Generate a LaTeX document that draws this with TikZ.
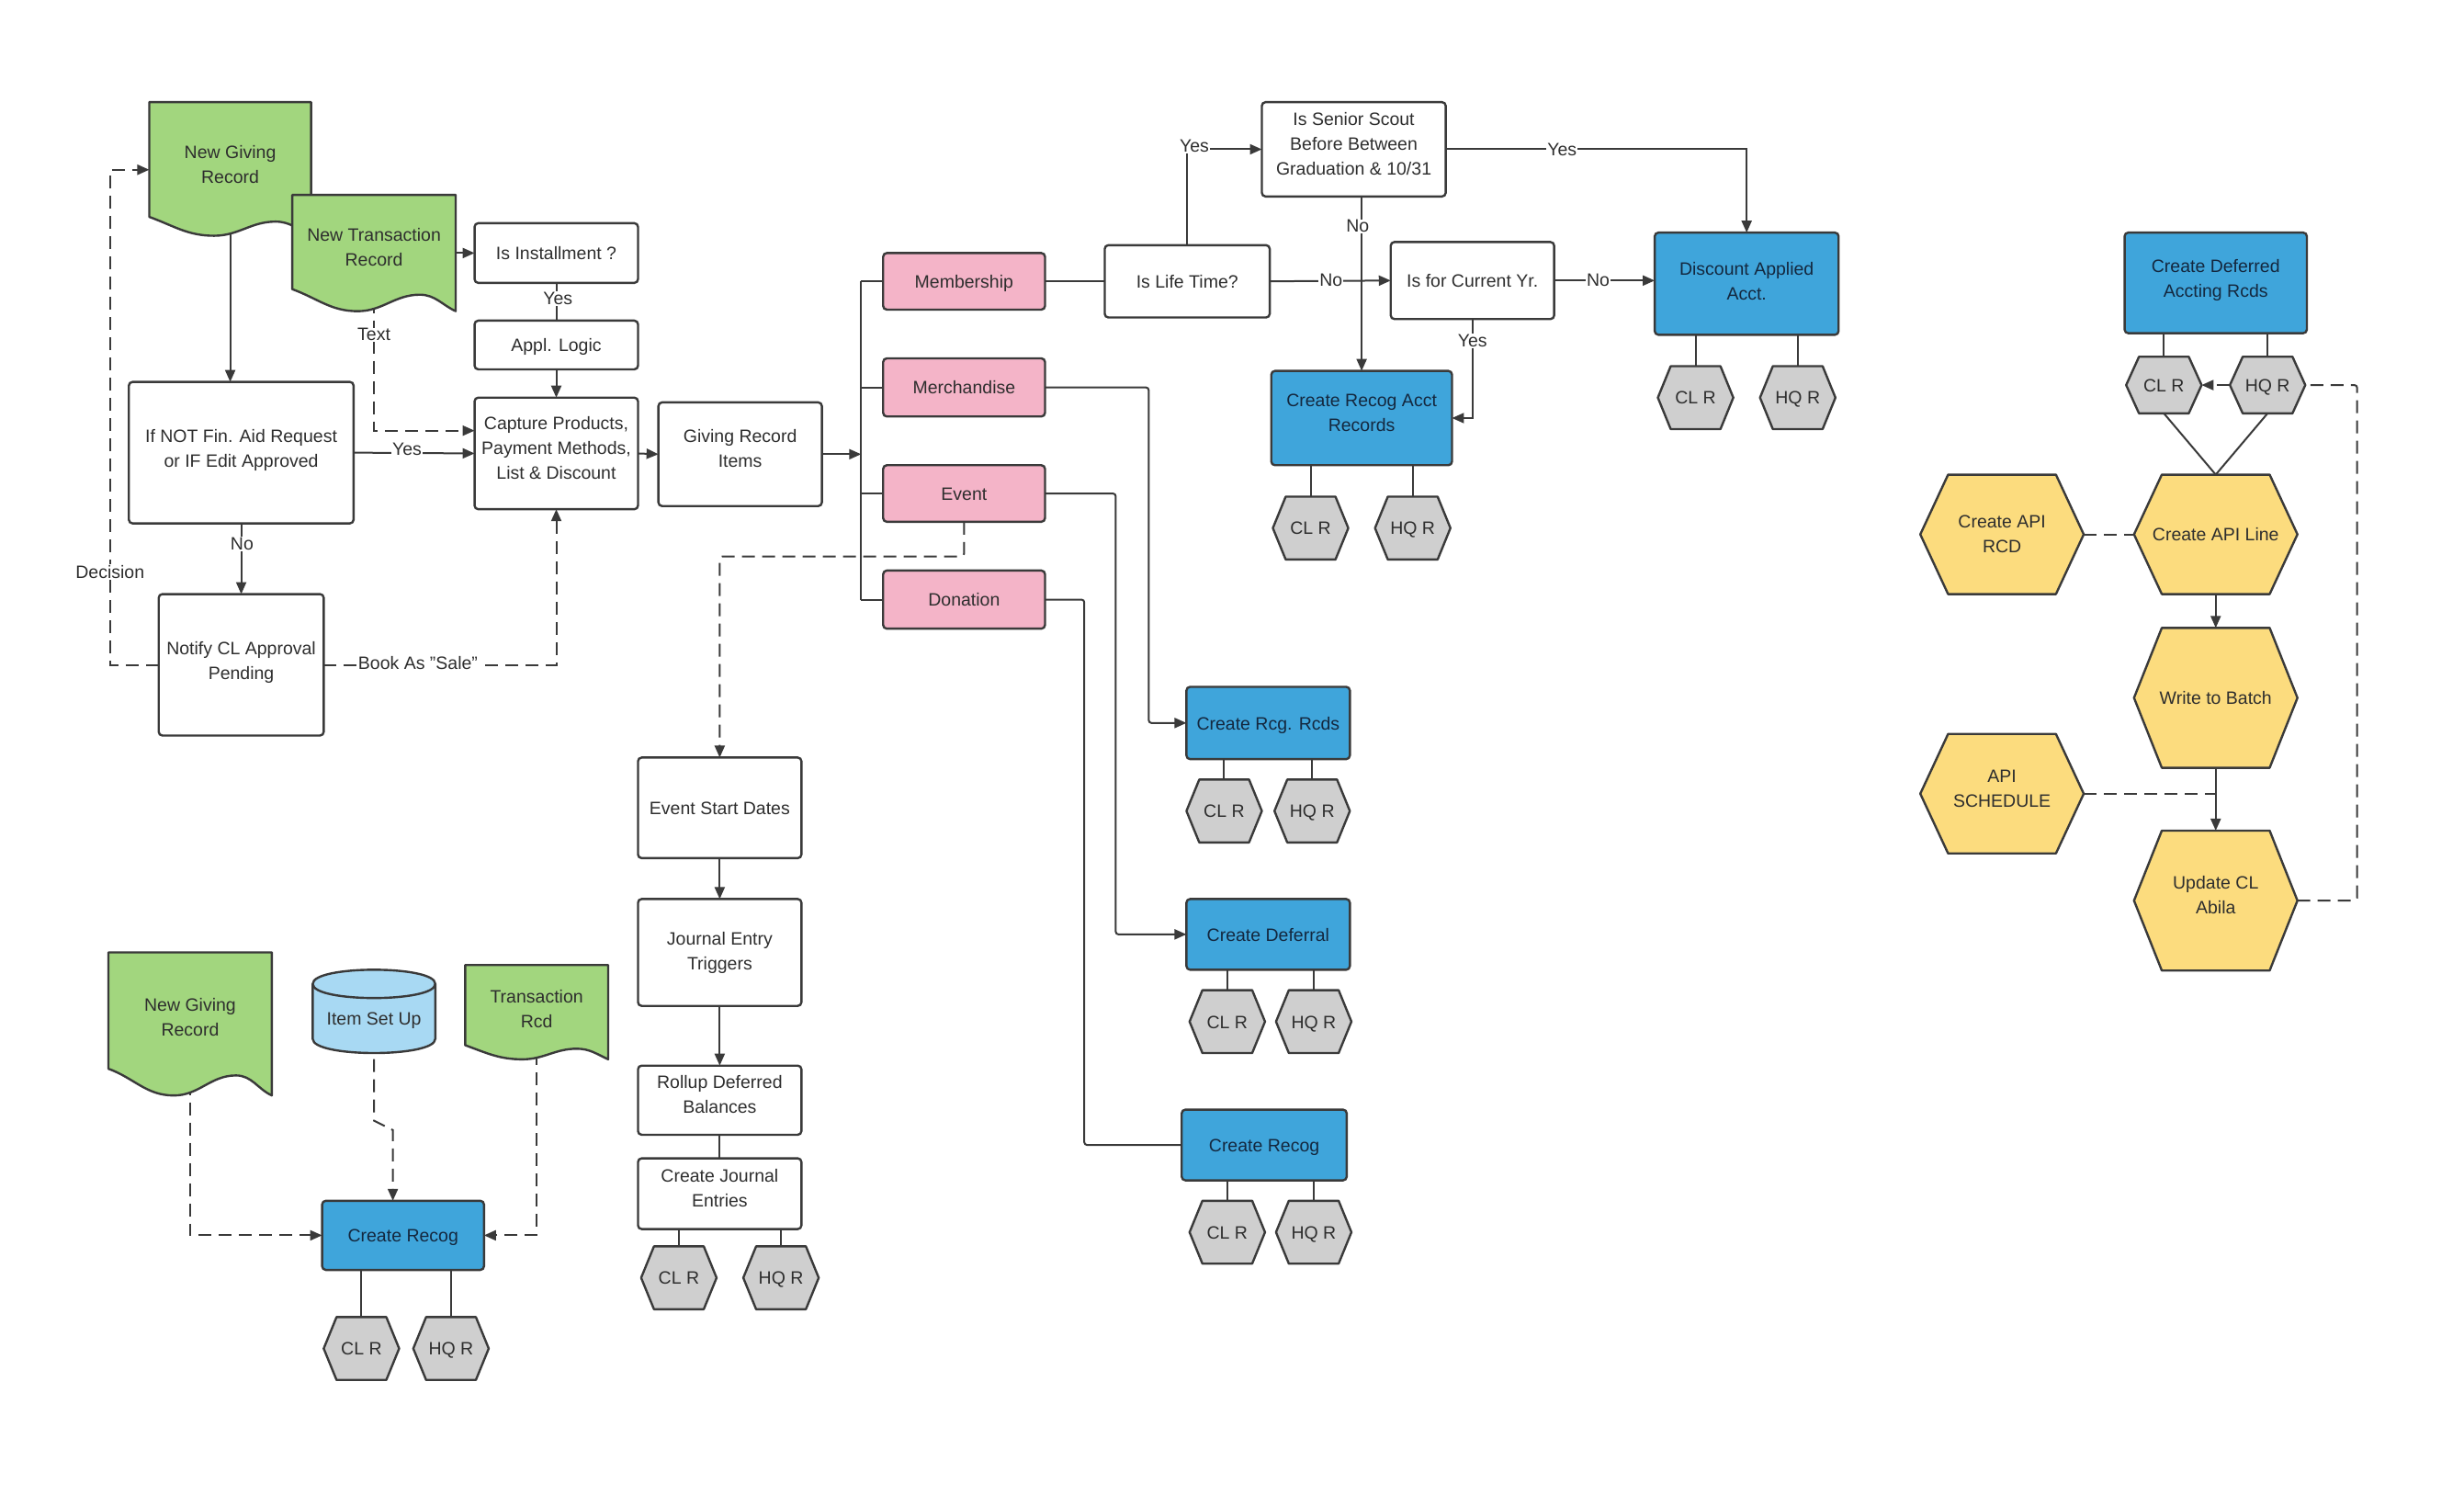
\documentclass[tikz,border=0pt]{standalone}
\usepackage{fontspec}
\setmainfont{Liberation Sans}
\usetikzlibrary{arrows.meta,backgrounds}
\definecolor{ol}{HTML}{3A3A3A}
\definecolor{txt}{HTML}{2E2E2E}
\definecolor{btxt}{HTML}{14283F}
\definecolor{gfill}{HTML}{A2D67E}
\definecolor{pfill}{HTML}{F4B4C8}
\definecolor{bfill}{HTML}{3FA5DB}
\definecolor{hfill}{HTML}{CFCFCF}
\definecolor{yfill}{HTML}{FCDC7E}
\definecolor{cfill}{HTML}{A8D9F3}
\tikzset{
  every node/.style={font=\fontsize{19.5}{27}\selectfont, text=txt, align=center, inner sep=0pt, outer sep=0pt},
  one/.style={text height=14.5pt, text depth=0pt},
  two/.style={text height=29pt},
  twoh/.style={text height=35pt},
  three/.style={text height=56pt},
  base/.style={draw=ol, line width=2.4pt, rounded corners=4pt},
  wbox/.style={base, fill=white},
  pbox/.style={base, fill=pfill, one},
  bbox/.style={base, fill=bfill, text=btxt},
  lbl/.style={fill=white, inner sep=1pt},
  con/.style={draw=ol, line width=2pt},
  arr/.style={con, -{Triangle[length=13pt,width=11pt]}},
  dsh/.style={con, dash pattern=on 14pt off 8pt},
  darr/.style={dsh, -{Triangle[length=13pt,width=11pt]}},
  docsh/.style={draw=ol, line width=2.4pt, fill=gfill, line join=round},
  hexsh/.style={draw=ol, line width=2.4pt, fill=hfill, line join=round},
  yhexsh/.style={draw=ol, line width=2.4pt, fill=yfill, line join=round},
  cylsh/.style={draw=ol, line width=2.4pt, fill=cfill},
}
% box node: #1 style, #2 name, #3 x1, #4 y1, #5 x2, #6 y2, #7 text
\newcommand\bx[7]{%
  \pgfmathsetmacro\bcx{(#3+#5)/2}\pgfmathsetmacro\bcy{(#4+#6)/2}%
  \pgfmathsetmacro\bw{(#5-#3)*1.7105}\pgfmathsetmacro\bh{(#6-#4)*1.7105}%
  \node[#1, minimum width=\bw pt, minimum height=\bh pt] (#2) at (\bcx,\bcy) {#7};}
% hexagon: #1 name, #2 cx, #3 cy, #4 w, #5 h, #6 shape style, #7 text, #8 node options
\newcommand\hexa[8]{%
  \pgfmathsetmacro\hxa{#2-#4/2}\pgfmathsetmacro\hxb{#2-#4/2+0.17*#4}%
  \pgfmathsetmacro\hxc{#2+#4/2-0.17*#4}\pgfmathsetmacro\hxd{#2+#4/2}%
  \pgfmathsetmacro\hya{#3-#5/2}\pgfmathsetmacro\hyb{#3+#5/2}%
  \path[#6] (\hxa,#3) -- (\hxb,\hya) -- (\hxc,\hya) -- (\hxd,#3) -- (\hxc,\hyb) -- (\hxb,\hyb) -- cycle;
  \bx{#8}{#1}{\hxa}{\hya}{\hxd}{\hyb}{#7}}
% document: #1 name, #2 x1, #3 x2, #4 top, #5 lowest bottom, #6 wave amplitude, #7 text
\newcommand\docu[7]{%
  \pgfmathsetmacro\dxa{#2+0.78*(#3-#2)}\pgfmathsetmacro\dxb{#2+0.4*(#3-#2)}%
  \pgfmathsetmacro\dya{#5-0.75*#6}\pgfmathsetmacro\dyb{#5-#6}\pgfmathsetmacro\dyc{#5-#6/2}%
  \path[docsh] (#2,\dyb) -- (#2,#4) -- (#3,#4) -- (#3,#5)
    to[out=155,in=0] (\dxa,\dya)
    to[out=180,in=0] (\dxb,#5)
    to[out=180,in=-20] (#2,\dyb) -- cycle;
  \bx{}{#1}{#2}{#4}{#3}{\dyc}{#7}}
\begin{document}
\begin{tikzpicture}[x=1.7105pt, y=-1.7105pt]
\useasboundingbox (0,0) rectangle (1568,951);
\begin{scope}[on background layer]
  \fill[white] (0,0) rectangle (1568,951);
\end{scope}

% ---------- left group
\docu{ngr}{95}{198}{65}{150}{12}{New Giving\\Record}
\docu{ntr}{186}{290}{124}{198}{14}{New Transaction\\Record}
\bx{wbox, one}{inst}{302}{142}{406}{180}{Is Installment ?}
\bx{wbox, one}{appl}{302}{204}{406}{235}{Appl. Logic}
\bx{wbox, three}{capt}{302}{253}{406}{324}{Capture Products,\\Payment Methods,\\List \& Discount}
\bx{wbox, twoh}{ifnot}{82}{243}{225}{333}{If NOT Fin. Aid Request\\or IF Edit Approved}
\bx{wbox, twoh}{notify}{101}{378}{206}{468}{Notify CL Approval\\Pending}
\bx{wbox, two}{gri}{419}{256}{523}{322}{Giving Record\\Items}

% ---------- item types
\bx{pbox}{memb}{562}{161}{665}{197}{Membership}
\bx{pbox}{merch}{562}{228}{665}{265}{Merchandise}
\bx{pbox}{event}{562}{296}{665}{332}{Event}
\bx{pbox}{don}{562}{363}{665}{400}{Donation}

% ---------- membership branch
\bx{wbox, one}{life}{703}{156}{808}{202}{Is Life Time?}
\bx{wbox, three}{senior}{803}{65}{920}{125}{Is Senior Scout\\Before Between\\Graduation \& 10/31}
\bx{wbox, one}{curyr}{885}{154}{989}{203}{Is for Current Yr.}
\bx{bbox, two}{cra}{809}{236}{924}{296}{Create Recog Acct\\Records}
\bx{bbox, twoh}{disc}{1053}{148}{1170}{213}{Discount Applied\\Acct.}
\hexa{craA}{834}{336}{48}{40}{hexsh}{CL R}{one}
\hexa{craB}{899}{336}{48}{40}{hexsh}{HQ R}{one}
\hexa{discA}{1079}{253}{48}{40}{hexsh}{CL R}{one}
\hexa{discB}{1144}{253}{48}{40}{hexsh}{HQ R}{one}

% ---------- merchandise / event / donation
\bx{bbox, one}{crr}{755}{437}{859}{483}{Create Rcg. Rcds}
\hexa{crrA}{779}{516}{48}{40}{hexsh}{CL R}{one}
\hexa{crrB}{835}{516}{48}{40}{hexsh}{HQ R}{one}
\bx{bbox, one}{cdef}{755}{572}{859}{617}{Create Deferral}
\hexa{cdefA}{781}{650}{48}{40}{hexsh}{CL R}{one}
\hexa{cdefB}{836}{650}{48}{40}{hexsh}{HQ R}{one}
\bx{bbox, one}{crec}{752}{706}{857}{751}{Create Recog}
\hexa{crecA}{781}{784}{48}{40}{hexsh}{CL R}{one}
\hexa{crecB}{836}{784}{48}{40}{hexsh}{HQ R}{one}

% ---------- event chain
\bx{wbox, one}{esd}{406}{482}{510}{546}{Event Start Dates}
\bx{wbox}{jet}{406}{572}{510}{640}{Journal Entry\\Triggers}
\bx{wbox, two}{rdb}{406}{678}{510}{722}{Rollup Deferred\\Balances}
\bx{wbox, two}{cje}{406}{737}{510}{782}{Create Journal\\Entries}
\hexa{cjeA}{432}{813}{48}{40}{hexsh}{CL R}{one}
\hexa{cjeB}{497}{813}{48}{40}{hexsh}{HQ R}{one}

% ---------- bottom-left
\docu{ngr2}{69}{173}{606}{697}{17}{New Giving\\Record}
\path[cylsh] (199,626) -- (199,661) .. controls (199,673) and (277,673) .. (277,661)
  -- (277,626) .. controls (277,614) and (199,614) .. (199,626) -- cycle;
\draw[draw=ol, line width=2.4pt] (199,626) .. controls (199,638) and (277,638) .. (277,626);
\bx{one}{isu}{199}{635}{277}{661}{Item Set Up}
\docu{trcd}{296}{387}{614}{674}{9}{Transaction\\Rcd}
\bx{bbox, one}{crec2}{205}{764}{308}{808}{Create Recog}
\hexa{crec2A}{230}{858}{48}{40}{hexsh}{CL R}{one}
\hexa{crec2B}{287}{858}{48}{40}{hexsh}{HQ R}{one}

% ---------- right group
\bx{bbox, twoh}{cdar}{1352}{148}{1468}{212}{Create Deferred\\Accting Rcds}
\hexa{cdarA}{1377}{245}{48}{36}{hexsh}{CL R}{one}
\hexa{cdarB}{1443}{245}{48}{36}{hexsh}{HQ R}{one}
\hexa{cal}{1410}{340}{104}{76}{yhexsh}{Create API Line}{one}
\hexa{car}{1274}{340}{104}{76}{yhexsh}{Create API\\RCD}{}
\hexa{wtb}{1410}{444}{104}{89}{yhexsh}{Write to Batch}{one}
\hexa{aps}{1274}{505}{104}{76}{yhexsh}{API\\SCHEDULE}{two}
\hexa{upd}{1410}{573}{104}{89}{yhexsh}{Update CL\\Abila}{two}

% ================= connectors
\begin{scope}[on background layer]
  \coordinate (tx) at (238,274);
  \coordinate (dec) at (70,108);
  \coordinate (bus) at (548,289);
  \coordinate (mj) at (731,460);
  \coordinate (ej) at (710,594.5);
  \coordinate (dj) at (690,728.5);
  \coordinate (ed) at (458,354);
  \coordinate (ij1) at (238,713);
  \coordinate (ij2) at (250,719);
  \coordinate (lp) at (1500,573);

  \draw[arr] (ngr.south) -- (ngr.south |- ifnot.north);
  \draw[arr] (inst.west -| ntr.east) -- (inst.west);
  \draw[darr] (ntr.south) |- (capt.west |- tx);
  \node[lbl] (ltext) at (238,213) {Text};
  \draw[con] (inst.south) -- (appl.north);
  \node[lbl] (lyes1) at (355,190) {Yes};
  \draw[arr] (appl.south) -- (capt.north);
  \draw[arr] (ifnot.east) -- (capt.west);
  \node[lbl] (lyes2) at (259,286) {Yes};
  \draw[arr] (ifnot.south) -- (notify.north);
  \node[lbl] (lno1) at (154,346) {No};
  \draw[darr] (notify.west) -| (dec) -- (ngr.west |- dec);
  \node[lbl] (ldec) at (70,364) {Decision};
  \draw[darr] (notify.east) -| (capt.south);
  \node[lbl] (lbook) at (266,422) {Book As "Sale"};
  \draw[arr] (capt.east) -- (gri.west);
  \draw[arr] (gri.east) -- (gri.east -| bus);
  \draw[con] (bus |- memb.west) -- (bus |- don.west);
  \draw[con] (bus |- memb.west) -- (memb.west);
  \draw[con] (bus |- merch.west) -- (merch.west);
  \draw[con] (bus |- event.west) -- (event.west);
  \draw[con] (bus |- don.west) -- (don.west);

  \draw[con] (memb.east) -- (life.west);
  \draw[arr] (life.north) |- (senior.west);
  \node[lbl] (lyes3) at (760,93) {Yes};
  \draw[arr] (senior.east) -| (disc.north);
  \node[lbl] (lyes4) at (994,95) {Yes};
  \draw[arr] (cra.north |- senior.south) -- (cra.north);
  \node[lbl] (lno2) at (864,144) {No};
  \draw[arr] (life.east) -- (curyr.west);
  \node[lbl] (lno3) at (847,178) {No};
  \draw[arr] (curyr.east) -- (curyr.east -| disc.west);
  \node[lbl] (lno4) at (1017,178) {No};
  \draw[arr] (curyr.south) |- (cra.east);
  \node[lbl] (lyes5) at (937,217) {Yes};
  \foreach \b/\h in {cra/craA, cra/craB, disc/discA, disc/discB, crr/crrA, crr/crrB,
      cdef/cdefA, cdef/cdefB, crec/crecA, crec/crecB, cje/cjeA, cje/cjeB,
      crec2/crec2A, crec2/crec2B, cdar/cdarA, cdar/cdarB}
    \draw[con] (\h.north |- \b.south) -- (\h.north);

  \draw[arr, rounded corners=3pt] (merch.east) -| (mj) -- (crr.west);
  \draw[arr, rounded corners=3pt] (event.east) -| (ej) -- (cdef.west);
  \draw[con, rounded corners=3pt] (don.east) -| (dj) -- (crec.west);

  \draw[darr, rounded corners=3pt] (event.south) |- (ed) -- (esd.north);
  \draw[arr] (esd.south) -- (jet.north);
  \draw[arr] (jet.south) -- (rdb.north);
  \draw[con] (rdb.south) -- (cje.north);

  \draw[darr] (ngr2.south) |- (crec2.west);
  \draw[darr] (isu.south) -- (ij1) -- (ij2) -- (ij2 |- crec2.north);
  \draw[darr] (trcd.south) |- (crec2.east);

  \draw[darr] (cdarB.west) -- (cdarA.east);
  \draw[con] (cdarA.south) -- (cal.north);
  \draw[con] (cdarB.south) -- (cal.north);
  \draw[dsh] (car.east) -- (cal.west);
  \draw[arr] (cal.south) -- (wtb.north);
  \draw[arr] (wtb.south) -- (upd.north);
  \draw[dsh] (aps.east) -- (aps.east -| upd.north);
  \draw[dsh, rounded corners=3pt] (upd.east) -- (upd.east -| lp) |- (cdarB.east);
\end{scope}
\end{tikzpicture}
\end{document}
